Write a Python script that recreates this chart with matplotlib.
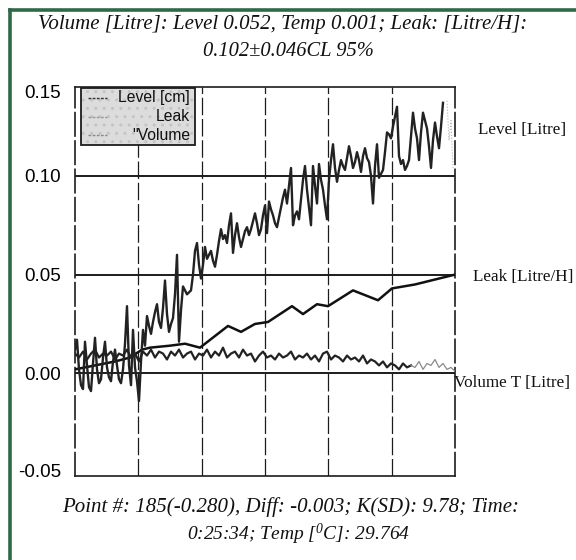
import numpy as np
import matplotlib
matplotlib.use("Agg")
import matplotlib.pyplot as plt
from matplotlib.lines import Line2D
from matplotlib.patches import Rectangle

# ---------------- data ----------------
level_pt = list(range(0, 185))
level_val = [
    0.012, 0.017, 0.002, -0.006, -0.008, 0.016, 0.004, -0.007, -0.009, 0.005,
    0.018, 0.002, -0.005, -0.003, 0.008, 0.016, 0.003, -0.002, -0.004, 0.006,
    0.012, 0.004, -0.003, -0.005, 0.002, 0.015, 0.034, 0.004, -0.006, 0.022,
    0.003, -0.004, -0.014, 0.006, 0.022, 0.014, 0.029, 0.024, 0.020, 0.026,
    0.031, 0.035, 0.026, 0.023, 0.033, 0.047, 0.030, 0.021, 0.025, 0.028,
    0.040, 0.060, 0.016, 0.032, 0.044, 0.042, 0.040, 0.041, 0.042, 0.050,
    0.062, 0.066, 0.055, 0.048, 0.055, 0.064, 0.058, 0.060, 0.062, 0.057,
    0.054, 0.060, 0.067, 0.073, 0.068, 0.070, 0.066, 0.075, 0.081, 0.061,
    0.070, 0.076, 0.069, 0.064, 0.068, 0.072, 0.074, 0.070, 0.073, 0.077,
    0.081, 0.076, 0.070, 0.073, 0.080, 0.085, 0.071, 0.087, 0.083, 0.080,
    0.076, 0.074, 0.079, 0.084, 0.089, 0.093, 0.086, 0.095, 0.104, 0.075,
    0.080, 0.082, 0.078, 0.088, 0.098, 0.105, 0.093, 0.084, 0.075, 0.105,
    0.095, 0.086, 0.106, 0.098, 0.093, 0.085, 0.078, 0.098, 0.108, 0.116,
    0.104, 0.097, 0.103, 0.108, 0.105, 0.103, 0.109, 0.115, 0.110, 0.104,
    0.107, 0.112, 0.108, 0.102, 0.110, 0.114, 0.109, 0.107, 0.100, 0.086,
    0.105, 0.116, 0.099, 0.101, 0.103, 0.112, 0.122, 0.121, 0.119, 0.125,
    0.130, 0.135, 0.110, 0.106, 0.108, 0.103, 0.105, 0.108, 0.120, 0.132,
    0.124, 0.119, 0.108, 0.122, 0.132, 0.128, 0.124, 0.115, 0.104, 0.118,
    0.127, 0.120, 0.114, 0.125, 0.137,
]
level_tail_pt = [186, 187, 188, 189]
level_tail_val = [0.138, 0.118, 0.128, 0.104]

leak_pt = [0, 10, 20, 27.5, 33.5, 37.5, 47.5, 55, 62.5, 76.5, 83, 90, 96.5,
           108.5, 114, 121, 126.5, 139, 151.5, 158.5, 170, 190]
leak_val = [0.002, 0.004, 0.006, 0.008, 0.012, 0.013, 0.014, 0.015, 0.013,
            0.024, 0.021, 0.025, 0.026, 0.034, 0.030, 0.035, 0.034, 0.042,
            0.037, 0.043, 0.045, 0.050]

vol_pt = list(range(0, 170, 2))
vol_val = [
    0.010, 0.008, 0.011, 0.007, 0.010, 0.012, 0.008, 0.010, 0.009, 0.011,
    0.007, 0.010, 0.009, 0.012, 0.008, 0.010, 0.006, 0.011, 0.009, 0.012,
    0.008, 0.011, 0.010, 0.007, 0.011, 0.009, 0.012, 0.008, 0.010, 0.011,
    0.007, 0.010, 0.009, 0.012, 0.008, 0.011, 0.009, 0.013, 0.008, 0.010,
    0.011, 0.008, 0.012, 0.009, 0.010, 0.006, 0.009, 0.011, 0.008, 0.009,
    0.007, 0.010, 0.008, 0.009, 0.011, 0.007, 0.009, 0.008, 0.010, 0.007,
    0.009, 0.006, 0.010, 0.011, 0.007, 0.009, 0.008, 0.006, 0.009, 0.007,
    0.008, 0.006, 0.009, 0.005, 0.007, 0.006, 0.004, 0.006, 0.003, 0.005,
    0.004, 0.002, 0.005, 0.003, 0.004,
]
vol_tail_pt = list(range(168, 192, 2))
vol_tail_val = [0.004, 0.003, 0.006, 0.002, 0.005, 0.004, 0.007, 0.003,
                0.005, 0.002, 0.003, 0.001]

ytick_labels = ["-0.05", "0.00", "0.05", "0.10", "0.15"]
grid_y = [0.00, 0.05, 0.10]
legend_labels = ["Level [cm]", "Leak", "\u0022Volume"]
right_labels = ["Level [Litre]", "Leak [Litre/H]", "Volume T [Litre]"]
title1 = "Volume [Litre]: Level 0.052, Temp 0.001; Leak: [Litre/H]:"
title2 = "0.102\u00b10.046CL 95%"
foot1 = "Point #: 185(-0.280), Diff: -0.003; K(SD): 9.78; Time:"
foot2 = r"0:25:34; Temp [$^{0}$C]: 29.764"

# ---------------- figure ----------------
W, H = 576, 560
fig = plt.figure(figsize=(W / 100, H / 100), dpi=100)
fig.patch.set_facecolor("white")

serif = ["Liberation Serif", "DejaVu Serif"]
sans = ["Liberation Sans", "DejaVu Sans"]
plt.rcParams["mathtext.fontset"] = "custom"
plt.rcParams["mathtext.rm"] = "Liberation Serif:italic"
plt.rcParams["mathtext.it"] = "Liberation Serif:italic"

ax_l, ax_r, ax_t, ax_b = 75, 455, 87, 476
ax = fig.add_axes([ax_l / W, 1 - ax_b / H, (ax_r - ax_l) / W, (ax_b - ax_t) / H])
ax.set_xlim(0, 190)
ax.set_ylim(-0.052, 0.145)

ink = "#1c1c1c"
for gy in grid_y:
    ax.axhline(gy, color=ink, lw=1.4, zorder=1)
for gx in np.linspace(0, 190, 7)[1:-1]:
    ax.axvline(gx, color=ink, lw=0.9, dashes=(14, 3), zorder=1)

ax.plot(leak_pt, leak_val, color="#111111", lw=1.8, zorder=3)
ax.plot(vol_pt, vol_val, color="#222222", lw=1.6, zorder=3)
ax.plot(vol_tail_pt, vol_tail_val, color="#8a8a8a", lw=0.9, zorder=3)
ax.plot(level_pt, level_val, color="#222222", lw=1.7, zorder=4)
ax.plot(level_tail_pt, level_tail_val, color="#b0b0b0", lw=0.8, ls=":", zorder=3)

ax.set_xticks([])
# place tick labels so that they sit where the scanned labels are
ypos = [-0.049, 0.0, 0.05, 0.10, 0.1425]
ax.set_yticks(ypos)
ax.set_yticklabels(ytick_labels, family=sans, fontsize=13.5)
ax.tick_params(axis="y", length=0, pad=10)
for s in ax.spines.values():
    s.set_color(ink)
    s.set_linewidth(1.2)
ax.spines["left"].set_linestyle((0, (14, 3)))
ax.spines["right"].set_linestyle((0, (14, 3)))

# legend (manual, right-aligned text)
ax.add_patch(Rectangle((0.016, 0.851), 0.300, 0.146, transform=ax.transAxes,
                       facecolor="#dcdcdc", edgecolor="#c4c4c4", lw=0, zorder=6,
                       hatch="..", clip_on=False))
ax.add_patch(Rectangle((0.016, 0.851), 0.300, 0.146, transform=ax.transAxes,
                       facecolor="none", edgecolor=ink, lw=1.3, zorder=6,
                       clip_on=False))
leg_y = [0.972, 0.924, 0.876]
leg_col = ["#333333", "#9a9a9a", "#8a8a8a"]
for yy, lab, c in zip(leg_y, legend_labels, leg_col):
    ax.add_line(Line2D([0.034, 0.084], [yy, yy], transform=ax.transAxes,
                       color=c, lw=1.0, ls=(0, (2, 1)), zorder=7))
    ax.text(0.303, yy, lab, transform=ax.transAxes, ha="right", va="center",
            family=sans, fontsize=11.3, color="#111111", zorder=7)

# right side labels
fig.text(478 / W, 1 - 130 / H, right_labels[0], family=serif, fontsize=12.3,
         ha="left", va="center", color="#111111")
fig.text(473 / W, 1 - 277 / H, right_labels[1], family=serif, fontsize=12.3,
         ha="left", va="center", color="#111111")
fig.text(454 / W, 1 - 383 / H, right_labels[2], family=serif, fontsize=12.3,
         ha="left", va="center", color="#111111")

# titles
fig.text(283 / W, 1 - 24 / H, title1, family=serif, style="italic", fontsize=15,
         ha="center", va="center", color="#111111")
fig.text(288 / W, 1 - 52 / H, title2, family=serif, style="italic", fontsize=14.8,
         ha="center", va="center", color="#111111")
fig.text(0.504, 1 - 507 / H, foot1, family=serif, style="italic", fontsize=15,
         ha="center", va="center", color="#111111")
fig.text(0.518, 1 - 534 / H, foot2, family=serif, style="italic", fontsize=14,
         ha="center", va="center", color="#111111")

# scanned green frame (left and top edges)
green = "#2e6a45"
fig.add_artist(Line2D([10 / W, 10 / W], [0, 1 - 10 / H], color=green, lw=2.6,
                      transform=fig.transFigure))
fig.add_artist(Line2D([10 / W, 1], [1 - 10 / H, 1 - 10 / H], color=green, lw=2.6,
                      transform=fig.transFigure))

fig.savefig("out.png", dpi=100, facecolor="white")
